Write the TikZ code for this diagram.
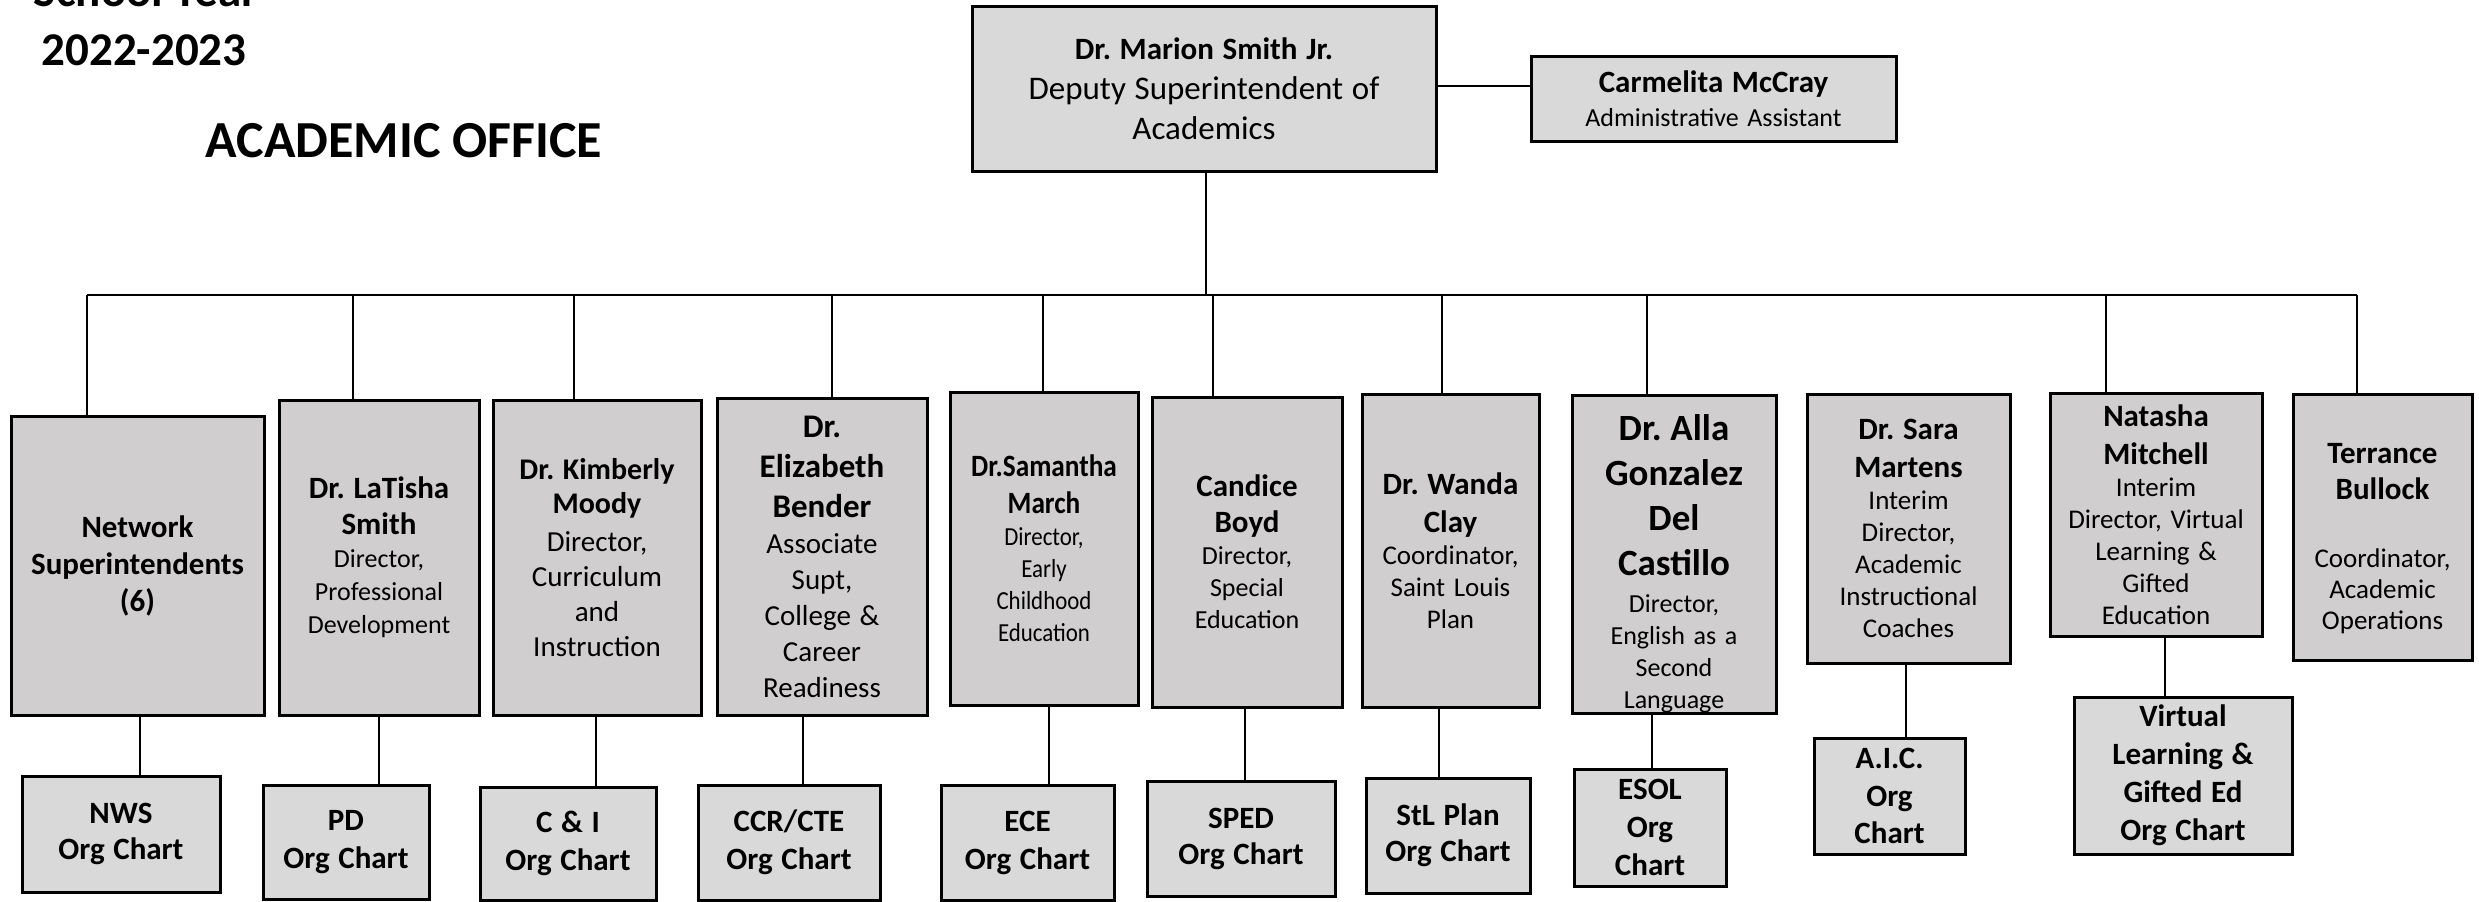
\documentclass[tikz,border=0pt]{standalone}
\usepackage{fontspec}
\setmainfont{Carlito}
\setlength\parindent{0pt}
\frenchspacing
\definecolor{upper}{HTML}{D0CECE}
\definecolor{lower}{HTML}{D9D9D9}
\newcommand\fb[2]{\fontsize{#1}{#2}\selectfont\bfseries}
\newcommand\fr[2]{\fontsize{#1}{#2}\selectfont\mdseries}
\tikzset{
  orgbox/.style={draw=black, line width=3pt, inner sep=0pt, outer sep=0pt, align=center, font=\fr{26}{32}},
  upbox/.style={orgbox, fill=upper},
  lowbox/.style={orgbox, fill=lower},
  wire/.style={line width=1.6pt, draw=black},
  titletext/.style={inner sep=0pt, anchor=base}
}
\begin{document}
\begin{tikzpicture}[x=1pt, y=-1pt]
\useasboundingbox (0,0) rectangle (2479,902);
\fill[white] (0,0) rectangle (2479,902);

% titles
\node[titletext, font=\fb{47}{56}] (sy) at (146,6) {School Year};
\node[titletext, font=\fb{47}{56}] (yr) at (144,65) {2022-2023};
\node[titletext, font=\fb{52}{60}] (ao) at (404,157) {ACADEMIC OFFICE};

% top
\node[lowbox, minimum width=464pt, minimum height=165pt, text width=456pt] (dep) at (1204,88.5)
  {\fb{31}{40}Dr. Marion Smith Jr.\par\fr{33}{40}Deputy Superintendent of\par Academics\par};
\node[lowbox, minimum width=365pt, minimum height=85pt, text width=357pt] (cm) at (1713.5,98.5)
  {\fb{31}{34}Carmelita McCray\par\fr{26}{34}Administrative Assistant\par};

% second level
\node[upbox, minimum width=253pt, minimum height=299pt, text width=245pt] (ns) at (137.5,565.5)
  {\fb{31}{37}Network\par Superintendents\par (6)\par};
\node[upbox, minimum width=200pt, minimum height=315pt, text width=192pt] (lts) at (379,557.5)
  {\fb{31}{36}Dr. LaTisha\par Smith\par\fr{26}{33}Director,\par Professional\par Development\par};
\node[upbox, minimum width=208pt, minimum height=315pt, text width=200pt] (km) at (597,557.5)
  {\fb{30}{34}Dr. Kimberly\par Moody\par\vskip3pt\fr{29}{35}Director,\par Curriculum\par and\par Instruction\par};
\node[upbox, minimum width=210pt, minimum height=317pt, text width=202pt] (eb) at (822,556.5)
  {\fb{33}{40}Dr.\par Elizabeth\par Bender\par\fr{29}{36}Associate\par Supt,\par College \&\par Career\par Readiness\par};
\node[upbox, minimum width=188pt, minimum height=313pt, text width=184pt] (sm) at (1044,548.5)
  {\fb{31}{37}\addfontfeatures{FakeStretch=0.88}Dr.Samantha\par March\par\fr{26}{32}Director,\par Early\par Childhood\par Education\par};
\node[upbox, minimum width=190pt, minimum height=310pt, text width=182pt] (cb) at (1247,552)
  {\fb{31}{36}Candice\par Boyd\par\fr{26}{32}Director,\par Special\par Education\par};
\node[upbox, minimum width=177pt, minimum height=313pt, text width=171pt] (wc) at (1450.5,550.5)
  {\fb{31}{38}Dr. Wanda\par Clay\par\fr{27}{32}Coordinator,\par Saint Louis\par Plan\par};
\node[upbox, minimum width=204pt, minimum height=318pt, text width=196pt] (ag) at (1674,554)
  {\fb{37}{45}Dr. Alla\par Gonzalez\par Del\par Castillo\par\vskip5pt\fr{26}{32}Director,\par English as a\par Second\par Language\par\vskip-20pt\nointerlineskip\hbox{}};
\node[upbox, minimum width=203pt, minimum height=269pt, text width=195pt] (sa) at (1908.5,528.5)
  {\fb{31}{38}Dr. Sara\par Martens\par\fr{27}{32}Interim\par Director,\par Academic\par Instructional\par Coaches\par};
\node[upbox, minimum width=212pt, minimum height=243pt, text width=206pt] (nm) at (2156,514.5)
  {\fb{31}{38}Natasha\par Mitchell\par\fr{27}{32}Interim\par Director, Virtual\par Learning \&\par Gifted\par Education\par};
\node[upbox, minimum width=179pt, minimum height=266pt, text width=173pt] (tb) at (2382.5,527)
  {\vskip8pt\fb{31}{36}Terrance\par Bullock\par\vskip37pt\fr{27}{31}Coordinator,\par Academic\par Operations\par};

% third level
\node[lowbox, minimum width=198pt, minimum height=116pt, text width=190pt] (nws) at (121,834)
  {\fb{31}{36}NWS\par Org Chart\par};
\node[lowbox, minimum width=166pt, minimum height=114pt, text width=158pt] (pd) at (346,842)
  {\fb{31}{38}PD\par Org Chart\par};
\node[lowbox, minimum width=176pt, minimum height=113pt, text width=168pt] (ci) at (568,843.5)
  {\fb{31}{38}C \& I\par Org Chart\par};
\node[lowbox, minimum width=182pt, minimum height=115pt, text width=174pt] (ccr) at (789,842.5)
  {\fb{31}{38}CCR/CTE\par Org Chart\par};
\node[lowbox, minimum width=173pt, minimum height=115pt, text width=165pt] (ece) at (1027.5,842.5)
  {\fb{31}{38}ECE\par Org Chart\par};
\node[lowbox, minimum width=188pt, minimum height=115pt, text width=180pt] (sp) at (1241,838.5)
  {\fb{31}{36}SPED\par Org Chart\par};
\node[lowbox, minimum width=164pt, minimum height=115pt, text width=156pt] (stl) at (1448,835.5)
  {\fb{31}{36}StL Plan\par Org Chart\par};
\node[lowbox, minimum width=152pt, minimum height=117pt, text width=144pt] (es) at (1650,827.5)
  {\fb{31}{38}ESOL\par Org\par Chart\par};
\node[lowbox, minimum width=151pt, minimum height=116pt, text width=143pt] (aic) at (1889.5,796)
  {\fb{31}{37.5}A.I.C.\par Org\par Chart\par};
\node[lowbox, minimum width=218pt, minimum height=157pt, text width=210pt] (vl) at (2183,775.5)
  {\fb{31}{38}Virtual\par Learning \&\par Gifted Ed\par Org Chart\par};

% bus and drop coordinates
\coordinate (bus0) at (1206,295);
\coordinate (d1) at (87,295);
\coordinate (d2) at (353,295);
\coordinate (d3) at (574,295);
\coordinate (d4) at (832,295);
\coordinate (d5) at (1043,295);
\coordinate (d6) at (1213,295);
\coordinate (d7) at (1442,295);
\coordinate (d8) at (1647,295);
\coordinate (d10) at (2106,295);
\coordinate (d11) at (2357,295);

\draw[wire] (dep.east |- 0,86) -- (cm.west |- 0,86);
\draw[wire] (bus0 |- dep.south) -- (bus0);
\draw[wire] (d1) -- (d11);
\draw[wire] (d1) -- (d1 |- ns.north);
\draw[wire] (d2) -- (d2 |- lts.north);
\draw[wire] (d3) -- (d3 |- km.north);
\draw[wire] (d4) -- (d4 |- eb.north);
\draw[wire] (d5) -- (d5 |- sm.north);
\draw[wire] (d6) -- (d6 |- cb.north);
\draw[wire] (d7) -- (d7 |- wc.north);
\draw[wire] (d8) -- (d8 |- ag.north);
\draw[wire] (d10) -- (d10 |- nm.north);
\draw[wire] (d11) -- (d11 |- tb.north);

% lower drops
\coordinate (e1) at (140,0);
\coordinate (e2) at (379,0);
\coordinate (e3) at (596,0);
\coordinate (e4) at (803,0);
\coordinate (e5) at (1049,0);
\coordinate (e6) at (1245,0);
\coordinate (e7) at (1439,0);
\coordinate (e8) at (1652,0);
\coordinate (e9) at (1906,0);
\coordinate (e10) at (2165,0);
\draw[wire] (e1 |- ns.south) -- (e1 |- nws.north);
\draw[wire] (e2 |- lts.south) -- (e2 |- pd.north);
\draw[wire] (e3 |- km.south) -- (e3 |- ci.north);
\draw[wire] (e4 |- eb.south) -- (e4 |- ccr.north);
\draw[wire] (e5 |- sm.south) -- (e5 |- ece.north);
\draw[wire] (e6 |- cb.south) -- (e6 |- sp.north);
\draw[wire] (e7 |- wc.south) -- (e7 |- stl.north);
\draw[wire] (e8 |- ag.south) -- (e8 |- es.north);
\draw[wire] (e9 |- sa.south) -- (e9 |- aic.north);
\draw[wire] (e10 |- nm.south) -- (e10 |- vl.north);
\end{tikzpicture}
\end{document}
